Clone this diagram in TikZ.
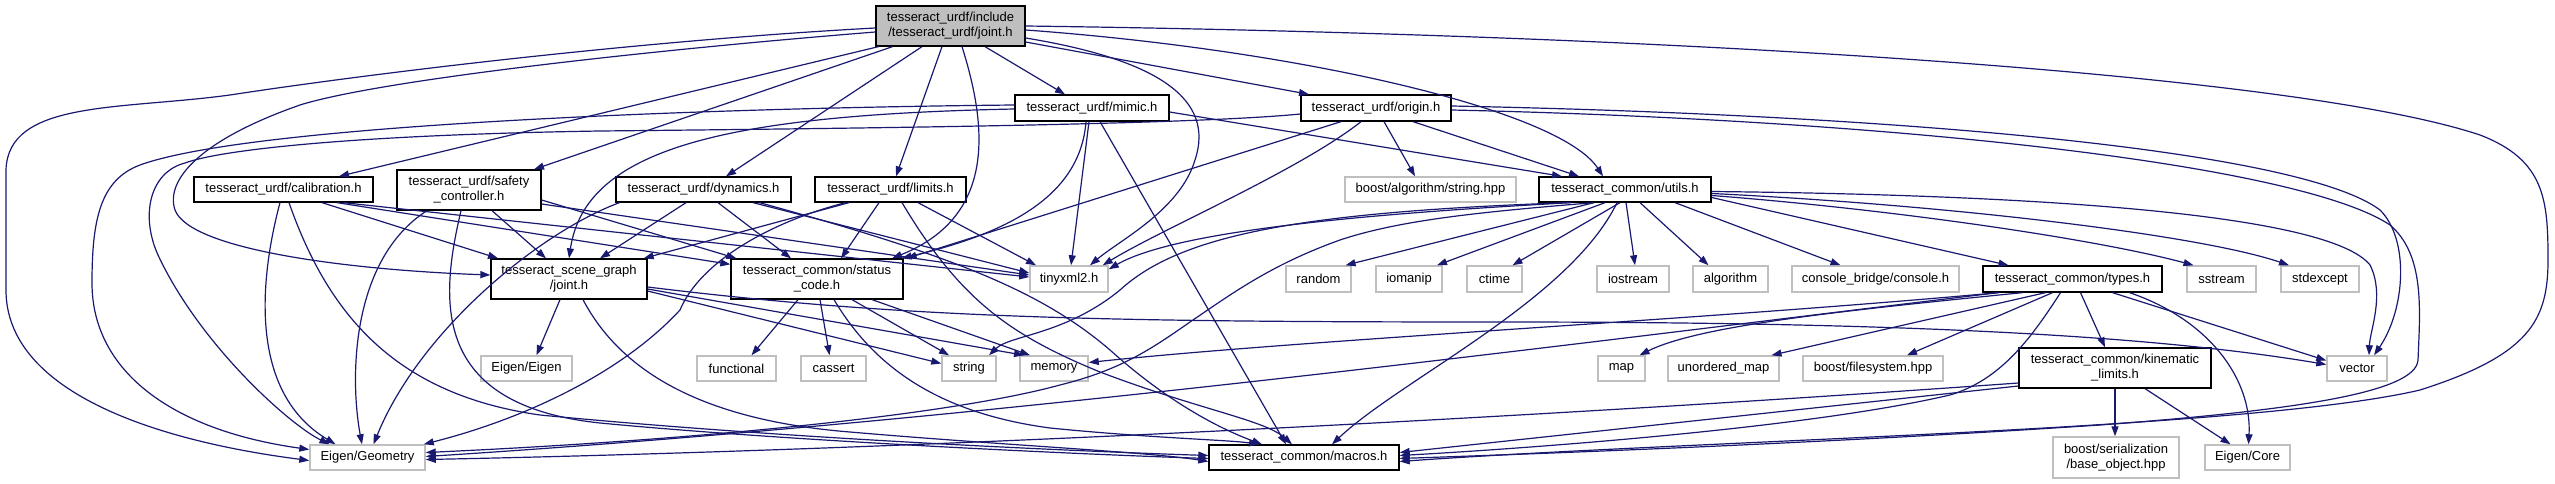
\documentclass[tikz,border=0pt]{standalone}
\usepackage{fontspec}
\setmainfont{Liberation Sans}
\usetikzlibrary{arrows.meta}
\definecolor{edgec}{HTML}{191970}
\definecolor{extc}{HTML}{BFBFBF}
\definecolor{mainfill}{HTML}{BFBFBF}
\begin{document}
\begin{tikzpicture}[x=1pt,y=1pt,
  every node/.style={font=\fontsize{13pt}{15pt}\selectfont, inner sep=0pt, align=center},
  docbox/.style={draw=black, line width=1.3pt, fill=white, minimum height=25pt},
  extbox/.style={draw=extc, line width=1.5pt, fill=white, minimum height=25pt},
  mainbox/.style={draw=black, line width=1.3pt, fill=mainfill, minimum height=40pt},
  dep/.style={draw=edgec, line width=1.2pt, -{Triangle[length=10pt,width=7pt]}}]
\fill[white] (0,0) rectangle (2555,-484);
\useasboundingbox (0,0) rectangle (2555,-484);
% nodes
\node[mainbox, minimum width=149pt] (main) at (950.5,-26) {tesseract\_urdf/include\\/tesseract\_urdf/joint.h};
\node[docbox, minimum width=179pt] (calib) at (283.5,-189.5) {tesseract\_urdf/calibration.h};
\node[docbox, minimum width=144pt, minimum height=40pt] (safety) at (469,-190) {tesseract\_urdf/safety\\\_controller.h};
\node[docbox, minimum width=175pt] (dyn) at (703.5,-189.5) {tesseract\_urdf/dynamics.h};
\node[docbox, minimum width=151pt] (limits) at (890.5,-189.5) {tesseract\_urdf/limits.h};
\node[docbox, minimum width=154pt, minimum height=26pt] (mimic) at (1092,-108) {tesseract\_urdf/mimic.h};
\node[docbox, minimum width=150pt, minimum height=26pt] (origin) at (1376,-108) {tesseract\_urdf/origin.h};
\node[extbox, minimum width=171pt] (balg) at (1430.5,-189.5) {boost/algorithm/string.hpp};
\node[docbox, minimum width=172pt] (utils) at (1625,-189.5) {tesseract\_common/utils.h};
\node[docbox, minimum width=156pt, minimum height=40pt] (sg) at (569,-279) {tesseract\_scene\_graph\\/joint.h};
\node[docbox, minimum width=172pt, minimum height=40pt] (status) at (817,-279) {tesseract\_common/status\\\_code.h};
\node[extbox, minimum width=78pt, minimum height=26pt] (tiny) at (1069,-279) {tinyxml2.h};
\node[extbox, minimum width=65pt, minimum height=26pt] (random) at (1318.5,-279) {random};
\node[extbox, minimum width=66pt, minimum height=26pt] (iomanip) at (1409,-279) {iomanip};
\node[extbox, minimum width=55pt, minimum height=26pt] (ctime) at (1494.5,-279) {ctime};
\node[extbox, minimum width=72pt, minimum height=26pt] (iostream) at (1633,-279) {iostream};
\node[extbox, minimum width=75pt, minimum height=26pt] (algorithm) at (1730.5,-279) {algorithm};
\node[extbox, minimum width=167pt, minimum height=26pt] (console) at (1875.5,-279) {console\_bridge/console.h};
\node[docbox, minimum width=179pt, minimum height=26pt] (types) at (2072.5,-279) {tesseract\_common/types.h};
\node[extbox, minimum width=69pt, minimum height=26pt] (sstream) at (2221.5,-279) {sstream};
\node[extbox, minimum width=78pt, minimum height=26pt] (stdexcept) at (2320,-279) {stdexcept};
\node[extbox, minimum width=91pt] (eigen) at (526.5,-368.5) {Eigen/Eigen};
\node[extbox, minimum width=79pt] (functional) at (736.5,-368.5) {functional};
\node[extbox, minimum width=65pt] (cassert) at (833.5,-368.5) {cassert};
\node[extbox, minimum width=54pt] (string) at (969,-368.5) {string};
\node[extbox, minimum width=68pt] (memory) at (1054,-368.5) {memory};
\node[extbox, minimum width=47pt] (map) at (1621.5,-368.5) {map};
\node[extbox, minimum width=111pt] (umap) at (1723.5,-368.5) {unordered\_map};
\node[extbox, minimum width=140pt] (fs) at (1873,-368.5) {boost/filesystem.hpp};
\node[docbox, minimum width=192pt, minimum height=40pt] (kin) at (2115,-368) {tesseract\_common/kinematic\\\_limits.h};
\node[extbox, minimum width=60pt] (vector) at (2357,-368.5) {vector};
\node[extbox, minimum width=115pt] (geom) at (367.5,-457.5) {Eigen/Geometry};
\node[docbox, minimum width=190pt] (macros) at (1304,-457.5) {tesseract\_common/macros.h};
\node[extbox, minimum width=126pt, minimum height=41pt] (ser) at (2116,-457.5) {boost/serialization\\/base\_object.hpp};
\node[extbox, minimum width=85pt] (core) at (2247.5,-457.5) {Eigen/Core};
% edges from main
\draw[dep] ([yshift=-2pt]main.west) .. controls (650,-40) and (380,-72) .. (230,-95) .. controls (120,-110) and (8,-100) .. (6,-170) -- (6,-290) .. controls (6,-390) and (150,-440) .. ([yshift=-3pt]geom.west);
\draw[dep] ([yshift=-6pt]main.west) .. controls (650,-50) and (380,-80) .. (300,-105) .. controls (200,-140) and (165,-180) .. (175,-210) .. controls (190,-250) and (350,-270) .. ([yshift=4pt]sg.west);
\draw[dep] ([xshift=-72pt]main.south) -- ([xshift=55.5pt]calib.north);
\draw[dep] ([xshift=-58pt]main.south) -- ([xshift=65pt]safety.north);
\draw[dep] ([xshift=-28.5pt]main.south) -- ([xshift=22.5pt]dyn.north);
\draw[dep] ([xshift=-8.5pt]main.south) -- ([xshift=5.5pt]limits.north);
\draw[dep] ([xshift=11.5pt]main.south) .. controls (985,-120) and (1000,-215) .. ([xshift=75pt]status.north);
\draw[dep] ([xshift=34.5pt]main.south) -- ([xshift=-27pt]mimic.north);
\draw[dep] ([yshift=-16pt]main.east) -- ([xshift=-67pt]origin.north);
\draw[dep] ([yshift=-4pt]main.east) .. controls (1300,-50) and (1560,-110) .. ([xshift=-22pt]utils.north);
\draw[dep] ([yshift=-12pt]main.east) .. controls (1160,-60) and (1215,-100) .. (1195,-160) .. controls (1180,-210) and (1120,-240) .. ([xshift=21pt]tiny.north);
\draw[dep] (main.east) .. controls (1700,-35) and (2300,-75) .. (2480,-135) .. controls (2545,-160) and (2548,-200) .. (2548,-260) .. controls (2548,-320) and (2530,-355) .. (2420,-390) .. controls (2250,-430) and (1700,-440) .. ([yshift=-4pt]macros.east);
% calibration
\draw[dep] ([xshift=-3.5pt]calib.south) .. controls (262,-270) and (245,-390) .. ([xshift=-32pt]geom.north);
\draw[dep] ([xshift=5.5pt]calib.south) .. controls (330,-320) and (400,-395) .. (540,-415) .. controls (800,-440) and (1100,-452) .. ([yshift=2pt]macros.west);
\draw[dep] ([xshift=38.5pt]calib.south) -- ([xshift=-71pt]sg.north);
\draw[dep] ([xshift=53.5pt]calib.south) -- ([yshift=-6pt]status.north west);
\draw[dep] ([xshift=60pt]calib.south) -- ([yshift=2pt]tiny.west);
% safety
\draw[dep] ([xshift=-42pt]safety.south) .. controls (350,-260) and (350,-380) .. ([xshift=-5.5pt]geom.north);
\draw[dep] ([xshift=-8pt]safety.south) .. controls (440,-300) and (430,-405) .. (600,-423) .. controls (800,-442) and (1100,-455) .. ([yshift=-1pt]macros.west);
\draw[dep] ([xshift=23pt]safety.south) -- ([xshift=-23pt]sg.north);
\draw[dep] ([yshift=-10pt]safety.east) -- ([xshift=6pt]status.north west);
\draw[dep] ([yshift=-14pt]safety.east) -- ([yshift=4pt]tiny.west);
% dynamics
\draw[dep] ([xshift=-84pt]dyn.south) .. controls (540,-232) and (420,-330) .. ([xshift=6pt]geom.north);
\draw[dep] ([xshift=-17.5pt]dyn.south) -- ([xshift=31pt]sg.north);
\draw[dep] ([xshift=14.5pt]dyn.south) -- ([xshift=-26pt]status.north);
\draw[dep] ([xshift=49.5pt]dyn.south) -- ([yshift=6pt]tiny.west);
\draw[dep] ([xshift=56pt]dyn.south) .. controls (950,-255) and (1040,-290) .. (1110,-350) .. controls (1160,-395) and (1210,-425) .. ([xshift=-42pt]macros.north);
% limits
\draw[dep] ([xshift=-41.5pt]limits.south) -- ([xshift=-4pt]sg.north east);
\draw[dep] ([xshift=-45pt]limits.south) .. controls (770,-222) and (700,-262) .. (680,-310) .. controls (620,-375) and (520,-420) .. ([xshift=-2pt]geom.north east);
\draw[dep] ([xshift=-11.5pt]limits.south) -- ([xshift=24pt]status.north);
\draw[dep] ([xshift=27.5pt]limits.south) -- ([xshift=-33pt]tiny.north);
\draw[dep] ([xshift=11.5pt]limits.south) .. controls (960,-300) and (1010,-335) .. (1100,-372) .. controls (1200,-410) and (1265,-420) .. ([xshift=-12pt]macros.north);
% mimic
\draw[dep] ([yshift=-1pt]mimic.west) .. controls (720,-115) and (585,-150) .. (sg.north);
\draw[dep] ([yshift=3pt]mimic.west) .. controls (700,-108) and (250,-125) .. (140,-165) .. controls (100,-180) and (92,-220) .. (92,-283) .. controls (92,-370) and (170,-430) .. ([yshift=8pt]geom.west);
\draw[dep] ([xshift=-6pt]mimic.south) .. controls (1080,-200) and (1000,-235) .. ([xshift=-2pt]status.north east);
\draw[dep] ([xshift=-3pt]mimic.south) -- ([xshift=2pt]tiny.north);
\draw[dep] ([xshift=8pt]mimic.south) -- ([xshift=-18pt]macros.north);
\draw[dep] ([yshift=-4pt]mimic.east) -- ([xshift=-63pt]utils.north);
% origin
\draw[dep] ([yshift=-6pt]origin.west) .. controls (1200,-124) and (900,-128) .. (600,-131) .. controls (350,-135) and (220,-150) .. (185,-163) .. controls (150,-172) and (140,-215) .. (158,-255) .. controls (200,-345) and (290,-425) .. ([xshift=-38pt]geom.north);
\draw[dep] ([xshift=-35pt]origin.south) -- ([xshift=3pt]status.north east);
\draw[dep] ([xshift=-15pt]origin.south) .. controls (1300,-170) and (1160,-230) .. ([xshift=-6pt]tiny.north east);
\draw[dep] ([xshift=8pt]origin.south) -- ([xshift=-15.5pt]balg.north);
\draw[dep] ([xshift=37pt]origin.south) -- ([xshift=-46pt]utils.north);
\draw[dep] ([yshift=2pt]origin.east) .. controls (1900,-115) and (2300,-150) .. (2380,-210) .. controls (2410,-240) and (2405,-310) .. ([xshift=17pt]vector.north);
\draw[dep] ([yshift=-2pt]origin.east) .. controls (1900,-120) and (2300,-165) .. (2390,-225) .. controls (2425,-255) and (2420,-310) .. (2418,-360) .. controls (2416,-392) and (2300,-410) .. (2100,-425) .. controls (1800,-445) and (1500,-455) .. ([yshift=-1pt]macros.east);
% utils
\draw[dep] ([xshift=-54pt]utils.south) .. controls (1400,-212) and (1180,-228) .. ([yshift=-4pt]tiny.north east);
\draw[dep] ([xshift=-56pt]utils.south) .. controls (1300,-212) and (1180,-235) .. (1120,-290) .. controls (1065,-335) and (1010,-335) .. ([xshift=20pt]string.north);
\draw[dep] ([xshift=-31pt]utils.south) .. controls (1480,-212) and (1400,-220) .. (1340,-240) .. controls (1270,-265) and (1230,-295) .. (1190,-322) .. controls (1150,-350) and (1120,-370) .. (1060,-385) .. controls (950,-415) and (700,-440) .. ([yshift=5pt]geom.east);
\draw[dep] ([xshift=-31pt]utils.south) -- ([xshift=27pt]random.north);
\draw[dep] ([xshift=-20pt]utils.south) -- ([xshift=28pt]iomanip.north);
\draw[dep] ([xshift=-5pt]utils.south) -- ([xshift=18pt]ctime.north);
\draw[dep] ([xshift=-8pt]utils.south) .. controls (1570,-300) and (1400,-380) .. ([xshift=28pt]macros.north);
\draw[dep] ([xshift=1pt]utils.south) -- ([xshift=2pt]iostream.north);
\draw[dep] ([xshift=15pt]utils.south) -- ([xshift=-22pt]algorithm.north);
\draw[dep] ([xshift=50pt]utils.south) -- ([xshift=-35pt]console.north);
\draw[dep] ([yshift=-8pt]utils.east) -- ([xshift=-64pt]types.north);
\draw[dep] ([yshift=-6pt]utils.east) .. controls (1900,-210) and (2100,-240) .. ([xshift=-28pt]sstream.north);
\draw[dep] ([yshift=-4pt]utils.east) .. controls (1950,-205) and (2200,-235) .. ([xshift=-31pt]stdexcept.north);
\draw[dep] ([yshift=-2pt]utils.east) .. controls (2050,-195) and (2330,-215) .. (2370,-265) .. controls (2385,-295) and (2370,-330) .. ([xshift=12pt]vector.north);
% scene graph joint
\draw[dep] ([xshift=-9pt]sg.south) -- ([xshift=10pt]eigen.north);
\draw[dep] ([xshift=14pt]sg.south) .. controls (620,-370) and (700,-420) .. (850,-432) .. controls (1000,-445) and (1150,-452) .. ([yshift=-4pt]macros.west);
\draw[dep] ([yshift=-12pt]sg.east) -- ([yshift=5pt]string.west);
\draw[dep] ([yshift=-10pt]sg.east) -- ([xshift=-30pt]memory.north);
\draw[dep] ([yshift=-8pt]sg.east) .. controls (900,-318) and (1100,-322) .. (1500,-322) .. controls (1900,-322) and (2150,-335) .. ([yshift=4pt]vector.west);
% status code
\draw[dep] ([xshift=-19pt]status.south) -- ([xshift=15pt]functional.north);
\draw[dep] ([xshift=3pt]status.south) -- ([xshift=-4pt]cassert.north);
\draw[dep] ([xshift=17pt]status.south) .. controls (870,-360) and (930,-412) .. (1050,-428) .. controls (1150,-438) and (1230,-440) .. ([xshift=-45pt]macros.north);
\draw[dep] ([xshift=35pt]status.south) -- ([xshift=-20pt]string.north);
\draw[dep] ([xshift=55pt]status.south) -- ([xshift=-24pt]memory.north);
% types
\draw[dep] ([xshift=-50pt]types.south) .. controls (1850,-310) and (1700,-325) .. ([xshift=18pt]map.north);
\draw[dep] ([xshift=-74pt]types.south) .. controls (1700,-320) and (1300,-340) .. ([yshift=6pt]memory.east);
\draw[dep] ([xshift=-74pt]types.south) .. controls (1600,-340) and (1000,-420) .. ([yshift=1pt]geom.east);
\draw[dep] ([xshift=-27pt]types.south) -- ([xshift=48pt]umap.north);
\draw[dep] ([xshift=-20pt]types.south) -- ([xshift=34pt]fs.north);
\draw[dep] ([xshift=-12pt]types.south) .. controls (2030,-340) and (2000,-380) .. (1950,-395) .. controls (1800,-430) and (1500,-450) .. ([yshift=2pt]macros.east);
\draw[dep] ([xshift=8pt]types.south) -- ([xshift=-10pt]kin.north);
\draw[dep] ([xshift=40pt]types.south) -- ([yshift=8pt]vector.west);
\draw[dep] ([xshift=57pt]types.south) .. controls (2210,-320) and (2252,-380) .. ([xshift=1pt]core.north);
% kinematic limits
\draw[dep] (kin.south) -- ([xshift=-1pt]ser.north);
\draw[dep] ([xshift=30pt]kin.south) -- ([xshift=-17pt]core.north);
\draw[dep] ([yshift=-15pt]kin.west) .. controls (1500,-420) and (900,-450) .. ([yshift=-2pt]geom.east);
\draw[dep] ([yshift=-18pt]kin.west) -- ([yshift=5pt]macros.east);
\end{tikzpicture}
\end{document}
